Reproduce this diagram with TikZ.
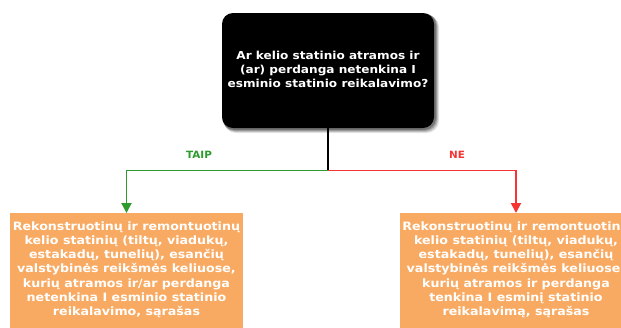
\documentclass[tikz,border=0pt]{standalone}
\usepackage{fontspec}
\setmainfont[FakeStretch=1.1]{DejaVu Sans}
\newfontfamily\labfont[FakeStretch=1.04]{DejaVu Sans}
\usetikzlibrary{arrows.meta}
\definecolor{orng}{HTML}{F9AA62}
\definecolor{grn}{HTML}{2E9B2E}
\definecolor{rd}{HTML}{F53434}
\begin{document}
\begin{tikzpicture}[x=1pt,y=-1pt,
  question/.style={fill=black,rounded corners=11pt,minimum width=212pt,minimum height=115pt,inner sep=0pt},
  qtext/.style={text=white,font=\fontsize{11}{14}\selectfont\bfseries,align=center,anchor=north,inner sep=0pt},
  result/.style={fill=orng,minimum width=233pt,minimum height=130pt,anchor=north,inner sep=0pt},
  restext/.style={text=white,font=\fontsize{11.5}{14.2}\selectfont\bfseries,align=center,anchor=north,inner sep=0pt},
  conn/.style={line width=1.9pt},
  tip/.style={-{Triangle[width=10pt,length=10pt]}},
  lab/.style={font=\labfont\fontsize{10}{12}\selectfont\bfseries,inner sep=0pt}]
\useasboundingbox (0,0) rectangle (621,327);
\clip (0,0) rectangle (621,327);
\fill[white] (0,0) rectangle (621,327);
% shadow
\foreach \o/\op in {5/0.10,4/0.15,3/0.2,2/0.25}{
  \fill[black,opacity=\op,rounded corners=12pt] (222+\o*0.6-1,13+\o*0.6-1) rectangle (434+\o,128+\o);
}
\node[question] (q) at (328,70.5) {};
\node[qtext] (qt) at (328,50.6) {Ar kelio statinio atramos ir\\(ar) perdanga netenkina I\\esminio statinio reikalavimo?};
\node[result] (l) at (126.5,213) {};
\node[result] (r) at (516,213) {};
\node[restext] (lt) at (126.5,221.3)
 {Rekonstruotinų ir remontuotinų\\kelio statinių (tiltų, viadukų,\\estakadų, tunelių), esančių\\valstybinės reikšmės keliuose,\\kurių atramos ir/ar perdanga\\netenkina I esminio statinio\\reikalavimo, sąrašas};
\node[restext] (rt) at (516,221.3)
 {Rekonstruotinų ir remontuotinų\\kelio statinių (tiltų, viadukų,\\estakadų, tunelių), esančių\\valstybinės reikšmės keliuose,\\kurių atramos ir perdanga\\tenkina I esminį statinio\\reikalavimą, sąrašas};
\coordinate (j) at (328,170.5);
\draw[conn,black] (q.south) -- (j);
\draw[conn,grn,tip] (j) -| (l.north);
\draw[conn,rd,tip] (j) -| (r.north);
\node[lab,text=grn] (taip) at (199,155.3) {TAIP};
\node[lab,text=rd] (ne) at (457,155.3) {NE};
\end{tikzpicture}
\end{document}
